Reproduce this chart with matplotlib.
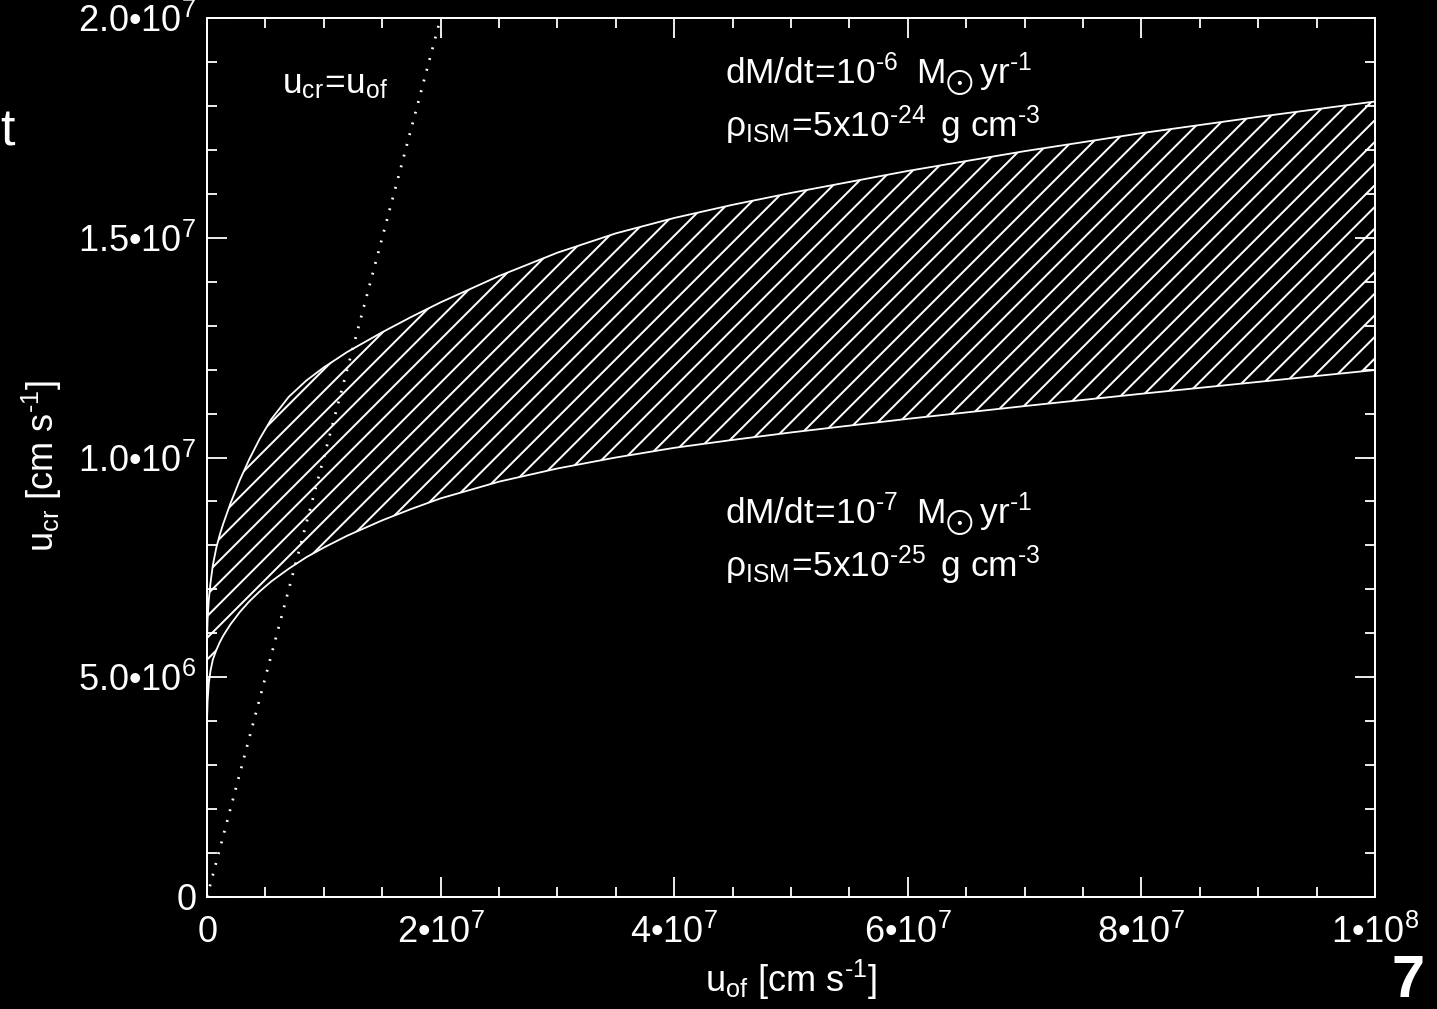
import matplotlib
matplotlib.use("Agg")
import matplotlib.pyplot as plt
from matplotlib.ticker import FixedLocator, MultipleLocator

plt.rcParams["font.family"] = ["Liberation Sans", "DejaVu Sans"]
plt.rcParams["mathtext.fontset"] = "custom"
plt.rcParams["mathtext.rm"] = "Liberation Sans"
plt.rcParams["mathtext.it"] = "Liberation Sans:italic"
plt.rcParams["mathtext.bf"] = "Liberation Sans:bold"
plt.rcParams["hatch.linewidth"] = 1.1
plt.rcParams["hatch.color"] = "white"

# outflow velocity u_of [cm/s]
u_of = [0, 0.005e7, 0.015e7, 0.03e7, 0.05e7, 0.08e7, 0.11e7, 0.14e7, 0.2e7,
        0.28e7, 0.36e7, 0.45e7, 0.55e7, 0.7e7, 0.85e7, 1.0e7, 1.2e7, 1.5e7,
        1.75e7, 2.0e7, 2.5e7, 3.0e7, 3.5e7, 4.0e7, 4.5e7, 5.0e7, 6.0e7,
        7.0e7, 8.0e7, 9.0e7, 1.0e8]
# critical velocity, dM/dt=1e-6, rho=5e-24
u_cr_high = [5.8e6, 6.3e6, 6.75e6, 7.15e6, 7.55e6, 7.95e6, 8.25e6, 8.5e6, 8.95e6,
             9.48e6, 9.95e6, 10.42e6, 10.87e6, 11.38e6, 11.75e6, 12.05e6, 12.4e6, 12.85e6,
             13.2e6, 13.53e6, 14.13e6, 14.66e6, 15.1e6, 15.45e6, 15.75e6, 16.02e6, 16.52e6,
             16.97e6, 17.38e6, 17.75e6, 18.1e6]
# critical velocity, dM/dt=1e-7, rho=5e-25
u_cr_low = [4.0e6, 4.45e6, 4.85e6, 5.15e6, 5.4e6, 5.62e6, 5.8e6, 5.95e6, 6.2e6,
            6.48e6, 6.72e6, 6.95e6, 7.18e6, 7.47e6, 7.73e6, 7.95e6, 8.22e6, 8.57e6,
            8.83e6, 9.07e6, 9.45e6, 9.75e6, 10.0e6, 10.22e6, 10.4e6, 10.57e6, 10.88e6,
            11.17e6, 11.45e6, 11.72e6, 11.99e6]
# u_cr = u_of
eq_line = [0, 2.0e7]

x_ticks = [0, 2e7, 4e7, 6e7, 8e7, 1e8]
x_ticklabels = ["0", "2•10^{7}", "4•10^{7}", "6•10^{7}", "8•10^{7}", "1•10^{8}"]
y_ticks = [0, 5e6, 1e7, 1.5e7, 2e7]
y_ticklabels = ["0", "5.0•10^{6}", "1.0•10^{7}", "1.5•10^{7}", "2.0•10^{7}"]

W, H, DPI = 1437, 1009, 130
fig = plt.figure(figsize=(W / DPI, H / DPI), dpi=DPI, facecolor="black")
ax = fig.add_axes([207 / W, 112 / H, 1168 / W, 879 / H])
ax.set_facecolor("black")

ax.fill_between(u_of, u_cr_low, u_cr_high, facecolor="none",
                edgecolor="white", hatch="//", linewidth=0)
ax.plot(u_of, u_cr_high, color="white", lw=1.0)
ax.plot(u_of, u_cr_low, color="white", lw=1.0)
ax.plot(eq_line, eq_line, color="white", lw=1.5, ls=(0, (0.7, 3.4)))

ax.set_xlim(0, 1e8)
ax.set_ylim(0, 2e7)

ax.xaxis.set_major_locator(FixedLocator(x_ticks))
ax.yaxis.set_major_locator(FixedLocator(y_ticks))
ax.set_xticklabels([r"$\mathregular{%s}$" % s for s in x_ticklabels])
ax.set_yticklabels([r"$\mathregular{%s}$" % s for s in y_ticklabels])
ax.xaxis.set_minor_locator(MultipleLocator(5e6))
ax.yaxis.set_minor_locator(MultipleLocator(1e6))

ax.tick_params(which="both", direction="in", top=True, right=True,
               colors="white", width=1.0, labelsize=20)
ax.tick_params(which="major", length=11)
ax.tick_params(which="minor", length=5.5)
ax.tick_params(axis="x", pad=10)
ax.tick_params(axis="y", pad=6)
for sp in ax.spines.values():
    sp.set_color("white")
    sp.set_linewidth(1.1)

ax.set_xlabel(r"$\mathregular{u_{of}\ [cm\ s^{\text{-1}}]}$", color="white",
              fontsize=20, va="center")
ax.xaxis.set_label_coords(0.5, -0.094)
ax.set_ylabel(r"$\mathregular{u_{cr}\ [cm\ s^{\text{-1}}]}$", color="white",
              fontsize=20, va="center")
ax.yaxis.set_label_coords(-0.141, 0.49)

txt = dict(color="white", fontsize=19.5, va="baseline", ha="left")
ax.text(0.64e7, 18.29e6, r"$\mathregular{u_{cr}\!=\!u_{of}}$", **txt)
ax.text(4.435e7, 18.52e6,
        r"$\mathregular{dM/dt\!=\!10^{\text{-6}}\ \;M_{\bigodot}\,yr^{\text{-1}}}$", **txt)
ax.text(4.435e7, 17.29e6,
        r"$\mathregular{ρ_{ISM}\!=\!5x10^{\text{-24}}\ \,g\ cm^{\text{-3}}}$", **txt)
ax.text(4.435e7, 8.51e6,
        r"$\mathregular{dM/dt\!=\!10^{\text{-7}}\ \;M_{\bigodot}\,yr^{\text{-1}}}$", **txt)
ax.text(4.435e7, 7.28e6,
        r"$\mathregular{ρ_{ISM}\!=\!5x10^{\text{-25}}\ \,g\ cm^{\text{-3}}}$", **txt)

fig.text(0.0, 1 - 145 / H, "t", color="white", fontsize=29, va="baseline")
fig.text(1425 / W, 0.0, "7", color="white", fontsize=33, fontweight="bold",
         ha="right", va="bottom")

fig.savefig("out.png", dpi=DPI, facecolor="black")
